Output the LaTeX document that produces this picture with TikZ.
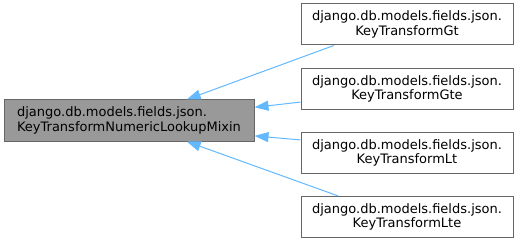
\documentclass[tikz,border=0pt]{standalone}
\usepackage{fontspec}
\setmainfont{DejaVu Sans}
\usetikzlibrary{arrows.meta}
\definecolor{edgeblue}{RGB}{99,184,255}
\definecolor{basegray}{RGB}{153,153,153}
\definecolor{boxline}{RGB}{102,102,102}

\begin{document}
\begin{tikzpicture}[x=1pt,y=-1pt,>={Triangle[length=14pt,width=10pt]},
    cls/.style={draw=boxline,line width=1pt,minimum height=41pt,inner sep=0pt,
        font=\fontsize{13}{14.5}\selectfont},
    inh/.style={<-,edgeblue,line width=1pt}]
    \useasboundingbox (0,0) rectangle (519,243);

    % Mixin
    \node[cls,fill=basegray,minimum width=250pt,align=left] (mixin) at (129,120.5)
        {django.db.models.fields.json.\\KeyTransformNumericLookupMixin};

    % Subclasses and inheritance edges
    \foreach \cname/\ypos/\src/\dst in {Gt/24.5/196.5/20,Gte/89/187/6.6,Lt/153/173/353.4,Lte/217/163.5/340}
    {
        \node[cls,fill=white,minimum width=212pt,align=center] (\cname) at (407,\ypos)
            {django.db.models.fields.json.\\KeyTransform\cname};
        \draw[inh] (mixin.\dst) -- (\cname.\src);
    }
\end{tikzpicture}
\end{document}
